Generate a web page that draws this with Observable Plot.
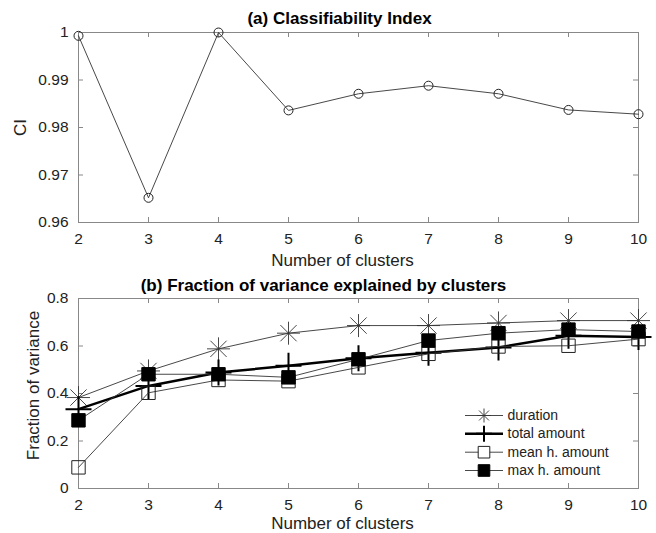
<!DOCTYPE html>
<html>
<head>
<meta charset="utf-8">
<script src="https://cdn.jsdelivr.net/npm/d3@7"></script>
<script src="https://cdn.jsdelivr.net/npm/@observablehq/plot@0.6"></script>
<style>
  body { margin: 0; background: white; }
  svg { display: block; }
</style>
</head>
<body>
<div id="chart"></div>
<script>
// number of clusters on the x axis
const clusters = [2, 3, 4, 5, 6, 7, 8, 9, 10];

// (a) classifiability index
const ci = [0.9993, 0.9652, 1.0, 0.9836, 0.9871, 0.9888, 0.9871, 0.9837, 0.9828];
const ciTicks = [0.96, 0.97, 0.98, 0.99, 1];

// (b) fraction of variance explained
const duration = [0.383, 0.495, 0.588, 0.654, 0.686, 0.686, 0.697, 0.707, 0.707];
const totalAmount = [0.334, 0.432, 0.488, 0.517, 0.548, 0.572, 0.594, 0.643, 0.638];
const meanAmount = [0.089, 0.403, 0.457, 0.452, 0.51, 0.567, 0.598, 0.601, 0.629];
const maxAmount = [0.287, 0.481, 0.481, 0.468, 0.544, 0.623, 0.654, 0.669, 0.661];
const fvTicks = [0, 0.2, 0.4, 0.6, 0.8];
const legendLabels = ["duration", "total amount", "mean h. amount", "max h. amount"];

const font = "Liberation Sans, Arial, Helvetica, sans-serif";
const fmt = d => d3.format("~g")(d);
const frameColor = "#888";

// matlab style markers
const star = {
  draw(ctx, size) {
    const r = Math.sqrt(size / Math.PI);
    const d = r * Math.SQRT1_2;
    ctx.moveTo(-r, 0); ctx.lineTo(r, 0);
    ctx.moveTo(0, -r); ctx.lineTo(0, r);
    ctx.moveTo(-d, -d); ctx.lineTo(d, d);
    ctx.moveTo(-d, d); ctx.lineTo(d, -d);
  }
};
const plus = {
  draw(ctx, size) {
    const r = Math.sqrt(size / Math.PI);
    ctx.moveTo(-r, 0); ctx.lineTo(r, 0);
    ctx.moveTo(0, -r); ctx.lineTo(0, r);
  }
};
const square = {
  draw(ctx, size) {
    const r = Math.sqrt(size / Math.PI);
    ctx.rect(-r, -r, 2 * r, 2 * r);
  }
};
const segment = {
  draw(ctx) {
    ctx.moveTo(-19, 0); ctx.lineTo(19, 0);
  }
};

// ticks pointing into the box, on all four sides
function innerTicks(xt, yt, w, h) {
  return [
    Plot.tickX(xt, {x: d => d, insetTop: h - 5, stroke: frameColor}),
    Plot.tickX(xt, {x: d => d, insetBottom: h - 5, stroke: frameColor}),
    Plot.tickY(yt, {y: d => d, insetRight: w - 5, stroke: frameColor}),
    Plot.tickY(yt, {y: d => d, insetLeft: w - 5, stroke: frameColor})
  ];
}

// a centred label placed relative to the box
function label(text, anchor, dx, dy, extra = {}) {
  return Plot.text([text], {
    text: d => d, frameAnchor: anchor, dx, dy,
    textAnchor: "middle", lineAnchor: "middle", fontSize: 17, fill: "#222", ...extra
  });
}

const rowsA = clusters.map((k, i) => ({k, v: ci[i]}));

const chartA = Plot.plot({
  width: 656,
  height: 270,
  marginLeft: 78,
  marginRight: 18,
  marginTop: 32,
  marginBottom: 48,
  style: {fontFamily: font, fontSize: "15.5px", color: "#222", background: "white"},
  x: {domain: [2, 10]},
  y: {domain: [0.96, 1]},
  marks: [
    ...innerTicks(clusters, ciTicks, 560, 190),
    Plot.frame({stroke: frameColor}),
    Plot.axisX(clusters, {tickSize: 0, tickPadding: 10, label: null, fontSize: 15.5}),
    Plot.axisY(ciTicks, {tickSize: 0, tickPadding: 10, label: null, tickFormat: fmt, fontSize: 15.5}),
    Plot.line(rowsA, {x: "k", y: "v", stroke: "#333", strokeWidth: 0.9}),
    Plot.dot(rowsA, {x: "k", y: "v", r: 4.5, stroke: "#222", fill: "none", strokeWidth: 1}),
    label("(a) Classifiability Index", "top", -19, -14, {fontWeight: "bold", fill: "#000"}),
    label("Number of clusters", "bottom", -16, 38),
    label("CI", "left", -58, 0, {rotate: -90})
  ]
});

const rows = (vals) => clusters.map((k, i) => ({k, v: vals[i]}));
const rowsDur = rows(duration);
const rowsTot = rows(totalAmount);
const rowsMean = rows(meanAmount);
const rowsMax = rows(maxAmount);

// legend rows, placed from the lower right corner of the box
const legendDy = [-73, -54.7, -36.3, -18];
const legendStyle = [
  {line: {stroke: "#333", strokeWidth: 0.9}, dot: {symbol: star, r: 7, stroke: "#333", fill: "none", strokeWidth: 0.9}},
  {line: {stroke: "#000", strokeWidth: 2.5}, dot: {symbol: plus, r: 8, stroke: "#000", fill: "none", strokeWidth: 2}},
  {line: {stroke: "#333", strokeWidth: 0.9}, dot: {symbol: square, r: 5.8, stroke: "#222", fill: "white", strokeWidth: 1}},
  {line: {stroke: "#333", strokeWidth: 0.9}, dot: {symbol: square, r: 5.8, stroke: "#000", fill: "#000", strokeWidth: 1}}
];
const legendMarks = legendLabels.flatMap((name, i) => [
  Plot.dot([name], {frameAnchor: "bottom-right", dx: -154.5, dy: legendDy[i], symbol: segment, ...legendStyle[i].line}),
  Plot.dot([name], {frameAnchor: "bottom-right", dx: -154.5, dy: legendDy[i], ...legendStyle[i].dot}),
  Plot.text([name], {text: d => d, frameAnchor: "bottom-right", dx: -131, dy: legendDy[i], textAnchor: "start", lineAnchor: "middle", fontSize: 14, fill: "#222"})
]);

const chartB = Plot.plot({
  width: 656,
  height: 263,
  marginLeft: 78,
  marginRight: 18,
  marginTop: 28,
  marginBottom: 45,
  style: {fontFamily: font, fontSize: "15.5px", color: "#222", background: "white"},
  x: {domain: [2, 10]},
  y: {domain: [0, 0.8]},
  marks: [
    ...innerTicks(clusters, fvTicks, 560, 190),
    Plot.frame({stroke: frameColor}),
    Plot.axisX(clusters, {tickSize: 0, tickPadding: 10, label: null, fontSize: 15.5}),
    Plot.axisY(fvTicks, {tickSize: 0, tickPadding: 10, label: null, tickFormat: fmt, fontSize: 15.5}),
    // duration
    Plot.line(rowsDur, {x: "k", y: "v", stroke: "#333", strokeWidth: 0.9}),
    Plot.dot(rowsDur, {x: "k", y: "v", symbol: star, r: 11.5, stroke: "#333", fill: "none", strokeWidth: 0.9}),
    // total amount
    Plot.line(rowsTot, {x: "k", y: "v", stroke: "#000", strokeWidth: 2.5}),
    Plot.dot(rowsTot, {x: "k", y: "v", symbol: plus, r: 13, stroke: "#000", fill: "none", strokeWidth: 2}),
    // mean h. amount
    Plot.line(rowsMean, {x: "k", y: "v", stroke: "#333", strokeWidth: 0.9}),
    Plot.dot(rowsMean, {x: "k", y: "v", symbol: square, r: 6.7, stroke: "#222", fill: "none", strokeWidth: 1}),
    // max h. amount
    Plot.line(rowsMax, {x: "k", y: "v", stroke: "#333", strokeWidth: 0.9}),
    Plot.dot(rowsMax, {x: "k", y: "v", symbol: square, r: 6.7, stroke: "#000", fill: "#000", strokeWidth: 1}),
    ...legendMarks,
    label("(b) Fraction of variance explained by clusters", "top", -35, -13, {fontWeight: "bold", fill: "#000"}),
    label("Number of clusters", "bottom", -16, 35),
    label("Fraction of variance", "left", -45, -8, {rotate: -90})
  ]
});

const container = document.getElementById("chart");
container.append(chartA);
container.append(chartB);
</script>
</body>
</html>
